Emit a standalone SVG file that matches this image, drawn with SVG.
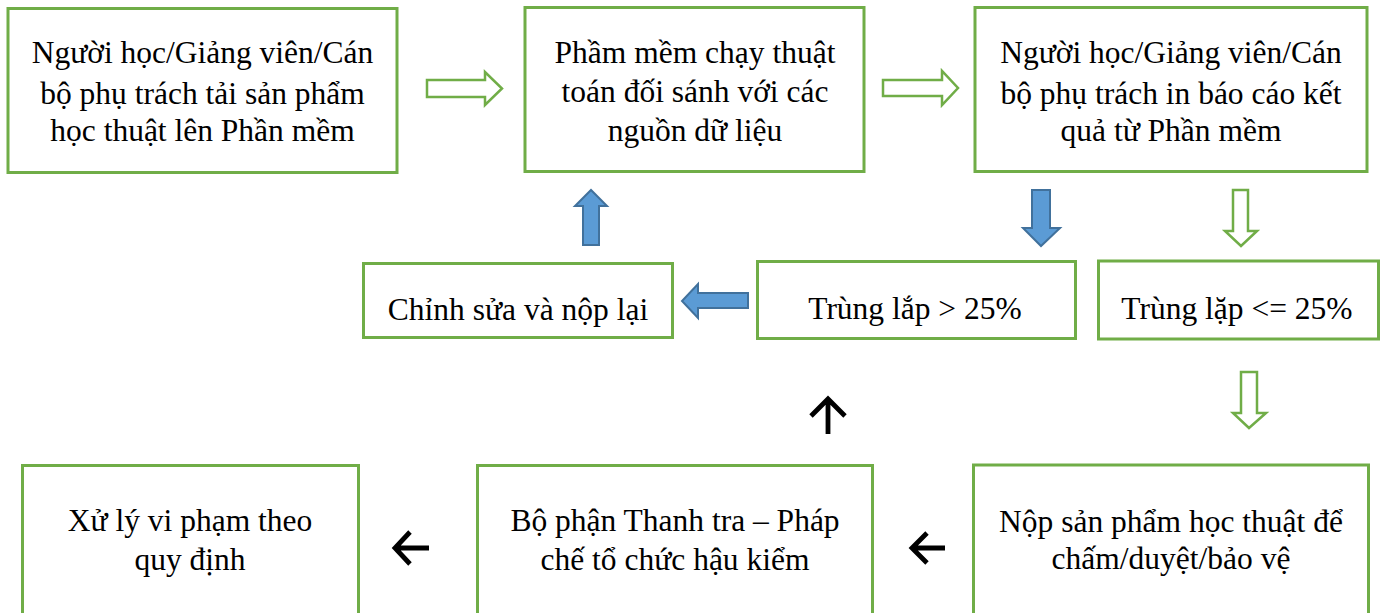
<svg xmlns="http://www.w3.org/2000/svg" width="1386" height="613" viewBox="0 0 1386 613">
<style>
.box{fill:#fff;stroke:#70AD47;stroke-width:3}
.t{font-family:"Liberation Serif","Times New Roman",serif;font-size:31.5px;fill:#000;text-anchor:middle}
.ga{fill:#fff;stroke:#70AD47;stroke-width:2.5;stroke-linejoin:miter}
.ba{fill:#5B9BD5;stroke:#41719C;stroke-width:2;stroke-linejoin:miter}
.ka{fill:none;stroke:#000;stroke-width:4.8;stroke-linejoin:miter}
</style>
<rect width="1386" height="613" fill="#fff"/>
<g id="n1"><rect class="box" x="8" y="8.5" width="389" height="164"/>
<text class="t"><tspan x="202.5" y="63">Người học/Giảng viên/Cán</tspan><tspan x="202.5" y="104">bộ phụ trách tải sản phẩm</tspan><tspan x="202.5" y="141">học thuật lên Phần mềm</tspan></text></g>
<g id="n2"><rect class="box" x="525" y="7.5" width="339" height="164"/>
<text class="t"><tspan x="695" y="63">Phầm mềm chạy thuật</tspan><tspan x="695" y="102">toán đối sánh với các</tspan><tspan x="695" y="141">nguồn dữ liệu</tspan></text></g>
<g id="n3"><rect class="box" x="975" y="7.5" width="392" height="164"/>
<text class="t"><tspan x="1171" y="63">Người học/Giảng viên/Cán</tspan><tspan x="1171" y="104">bộ phụ trách in báo cáo kết</tspan><tspan x="1171" y="141">quả từ Phần mềm</tspan></text></g>
<g id="n4"><rect class="box" x="363.5" y="263.5" width="309" height="74"/>
<text class="t" x="518" y="320">Chỉnh sửa và nộp lại</text></g>
<g id="n5"><rect class="box" x="757.5" y="261.5" width="318" height="77"/>
<text class="t" x="915" y="319">Trùng lắp &gt; 25%</text></g>
<g id="n6"><rect class="box" x="1098.5" y="261" width="280" height="78"/>
<text class="t" x="1237" y="319">Trùng lặp &lt;= 25%</text></g>
<g id="n7"><rect class="box" x="22.5" y="465.5" width="336" height="160"/>
<text class="t"><tspan x="190" y="531">Xử lý vi phạm theo</tspan><tspan x="190" y="570">quy định</tspan></text></g>
<g id="n8"><rect class="box" x="477.5" y="465.5" width="395" height="160"/>
<text class="t"><tspan x="675" y="531">Bộ phận Thanh tra – Pháp</tspan><tspan x="675" y="570">chế tổ chức hậu kiểm</tspan></text></g>
<g id="n9"><rect class="box" x="973.5" y="465" width="395" height="160"/>
<text class="t"><tspan x="1171" y="532">Nộp sản phẩm học thuật để</tspan><tspan x="1171" y="569">chấm/duyệt/bảo vệ</tspan></text></g>
<g id="connectors">
<path class="ga" d="M427 80 H485 V72 L502 88.5 L485 105 V97 H427 Z"/>
<path class="ga" d="M883 80 H942 V71 L958 88 L942 105 V96 H883 Z"/>
<path class="ba" d="M1032 190 H1050 V228 H1060 L1041 246 L1023 228 H1032 Z"/>
<path class="ga" d="M1233 190 H1248 V231 H1257 L1241 246 L1225 231 H1233 Z"/>
<path class="ga" d="M1241 372 H1257 V413 H1266 L1249 428 L1233 413 H1241 Z"/>
<path class="ba" d="M748 293 V308 H698 V318 L682 301 L698 284 V293 Z"/>
<path class="ba" d="M583 245 V206 H575 L591 190 L607 206 H599 V245 Z"/>
<path class="ka" d="M828 434 V400 M811 416 L828 399 L845 416"/>
<path class="ka" d="M945 548 H913 M927 533 L912 548 L927 563"/>
<path class="ka" d="M429 548 H396 M410 532 L395 548 L410 564"/>
</g>
</svg>
